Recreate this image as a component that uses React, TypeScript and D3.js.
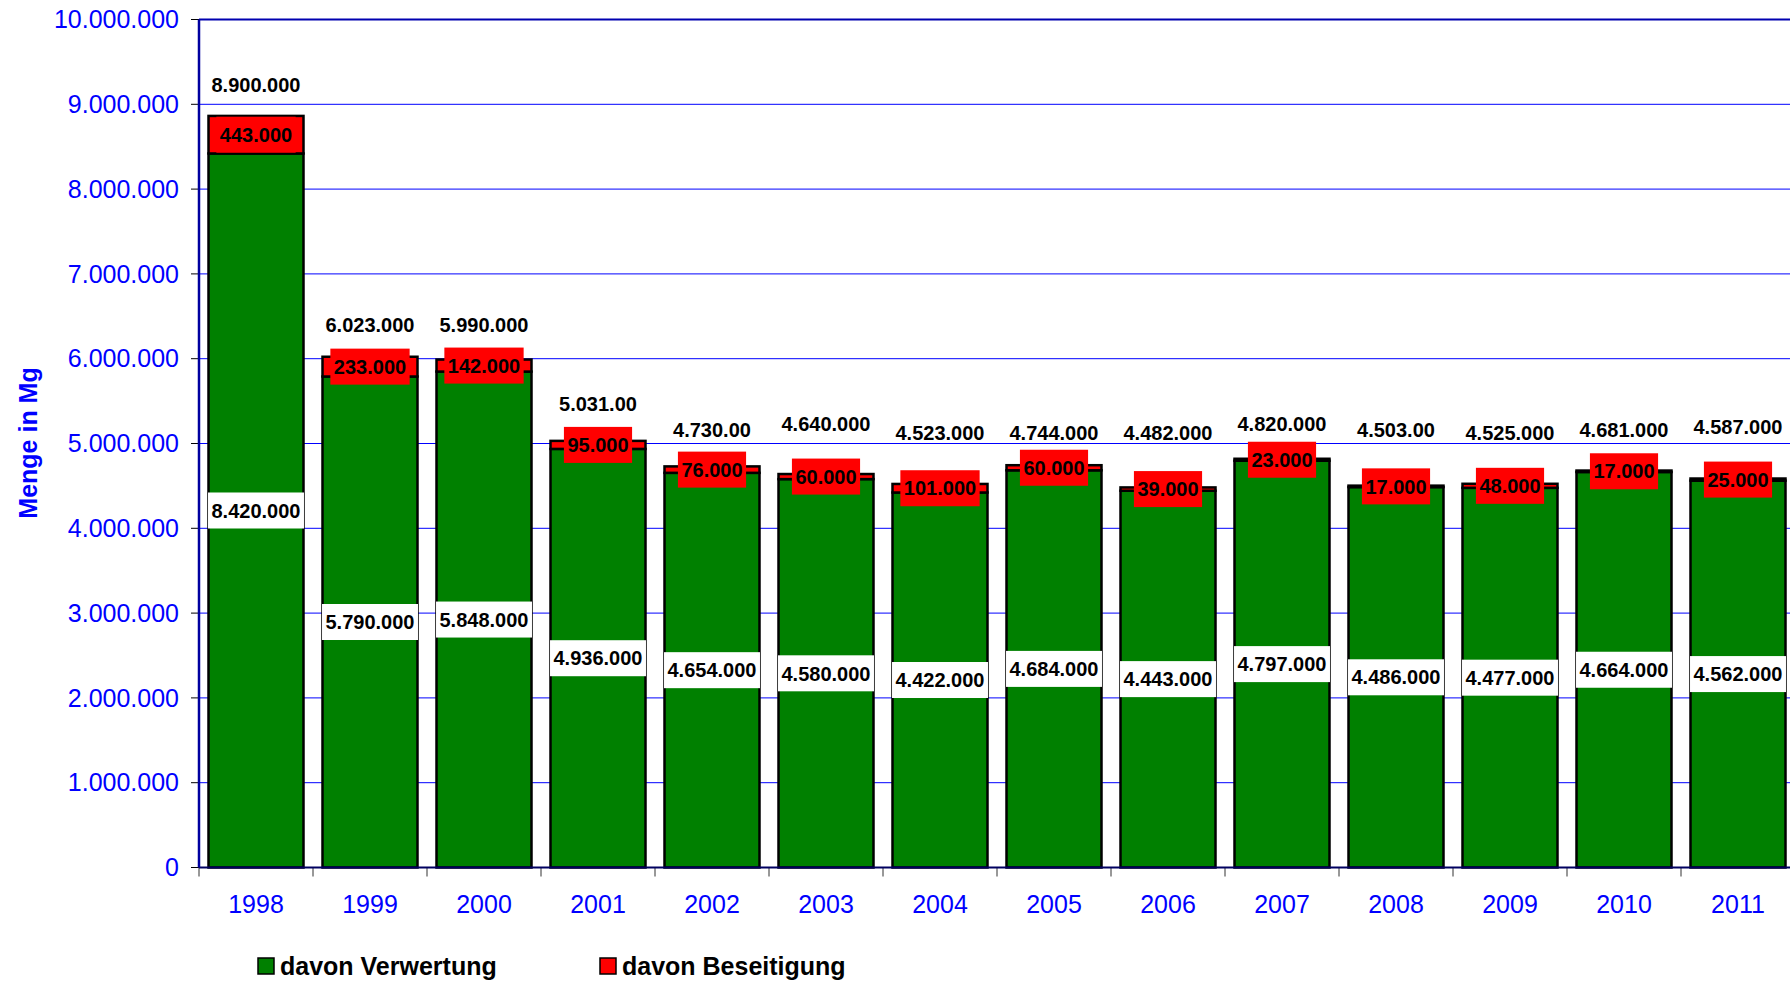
import React from "react";
import * as d3 from "d3";

const years = ["1998", "1999", "2000", "2001", "2002", "2003", "2004", "2005", "2006", "2007", "2008", "2009", "2010", "2011"];
const verwertung = [8420000, 5790000, 5848000, 4936000, 4654000, 4580000, 4422000, 4684000, 4443000, 4797000, 4486000, 4477000, 4664000, 4562000];
const beseitigung = [443000, 233000, 142000, 95000, 76000, 60000, 101000, 60000, 39000, 23000, 17000, 48000, 17000, 25000];
const totalLabels = ["8.900.000", "6.023.000", "5.990.000", "5.031.00", "4.730.00", "4.640.000", "4.523.000", "4.744.000", "4.482.000", "4.820.000", "4.503.00", "4.525.000", "4.681.000", "4.587.000"];
// level (in Mg) at which each total label sits
const totalLabelLevel = [9228000, 6397000, 6397000, 5466000, 5159000, 5238000, 5127000, 5127000, 5127000, 5230000, 5167000, 5127000, 5159000, 5198000];
const yTicks = [0, 1000000, 2000000, 3000000, 4000000, 5000000, 6000000, 7000000, 8000000, 9000000, 10000000];
const seriesNames = ["davon Verwertung", "davon Beseitigung"];

const W = 1790;
const H = 982;
const FONT = "'Liberation Sans', Arial, Helvetica, sans-serif";
const GREEN = "#008000";
const RED = "#FF0000";
const BLUE = "#0000FF";

const locale = d3.formatLocale({ decimal: ",", thousands: ".", grouping: [3], currency: ["", "€"] });
const fmt = locale.format(",d");

function textWidth(s: string, size: number) {
  let w = 0;
  for (const ch of s) w += ch === "." ? 0.278 : 0.556;
  return w * size;
}

export default function App() {
  const x = d3
    .scaleBand<string>()
    .domain(years)
    .range([199, 199 + 114 * years.length])
    .paddingInner(19 / 114)
    .paddingOuter(9.5 / 114);
  const y = d3.scaleLinear().domain([0, 10000000]).range([867.5, 19.5]);
  const plotLeft = 199;
  const step = x.step();
  const bw = x.bandwidth();
  const labelSize = 20;
  const boxH = 36;

  return (
    <div style={{ position: "fixed", left: 0, top: 0, width: W, height: H, background: "#fff" }}>
      <svg width={W} height={H} style={{ display: "block" }} fontFamily={FONT}>
        <rect x={0} y={0} width={W} height={H} fill="#fff" />
        {/* gridlines */}
        {yTicks.slice(1, -1).map((t) => (
          <line key={"g" + t} x1={plotLeft} x2={W} y1={y(t)} y2={y(t)} stroke={BLUE} strokeWidth={1} />
        ))}
        {/* top border */}
        <line x1={plotLeft} x2={W} y1={y(10000000)} y2={y(10000000)} stroke="#0000B0" strokeWidth={2} />
        {/* y ticks and labels */}
        {yTicks.map((t) => (
          <g key={"t" + t}>
            <line x1={191} x2={plotLeft} y1={y(t)} y2={y(t)} stroke="#000" strokeWidth={1} />
            <text x={179} y={y(t)} dy="0.35em" textAnchor="end" fontSize={25} fill={BLUE}>
              {fmt(t)}
            </text>
          </g>
        ))}
        {/* x ticks */}
        {years.map((yr, i) => (
          <line key={"xt" + yr} x1={plotLeft + i * step} x2={plotLeft + i * step} y1={y(0)} y2={y(0) + 9} stroke="#333" strokeWidth={1} />
        ))}
        {/* bars */}
        {years.map((yr, i) => {
          const x0 = x(yr) as number;
          const v = verwertung[i];
          const b = beseitigung[i];
          return (
            <g key={"b" + yr}>
              <rect x={x0} y={y(v)} width={bw} height={y(0) - y(v)} fill={GREEN} stroke="#000" strokeWidth={2.5} />
              <rect x={x0} y={y(v + b)} width={bw} height={y(v) - y(v + b)} fill={RED} stroke="#000" strokeWidth={2.5} />
            </g>
          );
        })}
        {/* axes lines */}
        <line x1={plotLeft} x2={W} y1={y(0)} y2={y(0)} stroke="#000060" strokeWidth={2} />
        <line x1={plotLeft} x2={plotLeft} y1={y(10000000)} y2={y(0)} stroke="#0000A0" strokeWidth={2.5} />
        {/* labels */}
        {years.map((yr, i) => {
          const cx = (x(yr) as number) + bw / 2;
          const v = verwertung[i];
          const b = beseitigung[i];
          const gLabel = fmt(v);
          const rLabel = fmt(b);
          const gw = textWidth(gLabel, labelSize) + 7;
          const rw = textWidth(rLabel, labelSize) + 7;
          const gy = y(v / 2);
          const ry = y(v + b / 2);
          return (
            <g key={"l" + yr} fontWeight="bold" fontSize={labelSize} textAnchor="middle">
              <rect x={cx - gw / 2} y={gy - boxH / 2} width={gw} height={boxH} fill="#fff" />
              <text x={cx} y={gy} dy="0.36em" fill="#000">{gLabel}</text>
              <rect x={cx - rw / 2} y={ry - boxH / 2} width={rw} height={boxH} fill={RED} />
              <text x={cx} y={ry} dy="0.36em" fill="#000">{rLabel}</text>
              <text x={cx} y={y(totalLabelLevel[i])} dy="0.36em" fill="#000">{totalLabels[i]}</text>
            </g>
          );
        })}
        {/* x labels */}
        {years.map((yr) => (
          <text key={"xl" + yr} x={(x(yr) as number) + bw / 2} y={904} dy="0.35em" textAnchor="middle" fontSize={25} fill={BLUE}>
            {yr}
          </text>
        ))}
        {/* y axis title */}
        <text transform="translate(37,443) rotate(-90)" textAnchor="middle" fontSize={25} fontWeight="bold" fill={BLUE}>
          Menge in Mg
        </text>
        {/* legend */}
        {seriesNames.map((name, i) => {
          const lx = i === 0 ? 258 : 600;
          return (
            <g key={"lg" + name}>
              <rect x={lx} y={958} width={16} height={16} fill={i === 0 ? GREEN : RED} stroke="#000" strokeWidth={1.5} />
              <text x={lx + 22} y={966} dy="0.35em" fontSize={25} fontWeight="bold" fill="#000">
                {name}
              </text>
            </g>
          );
        })}
      </svg>
    </div>
  );
}
